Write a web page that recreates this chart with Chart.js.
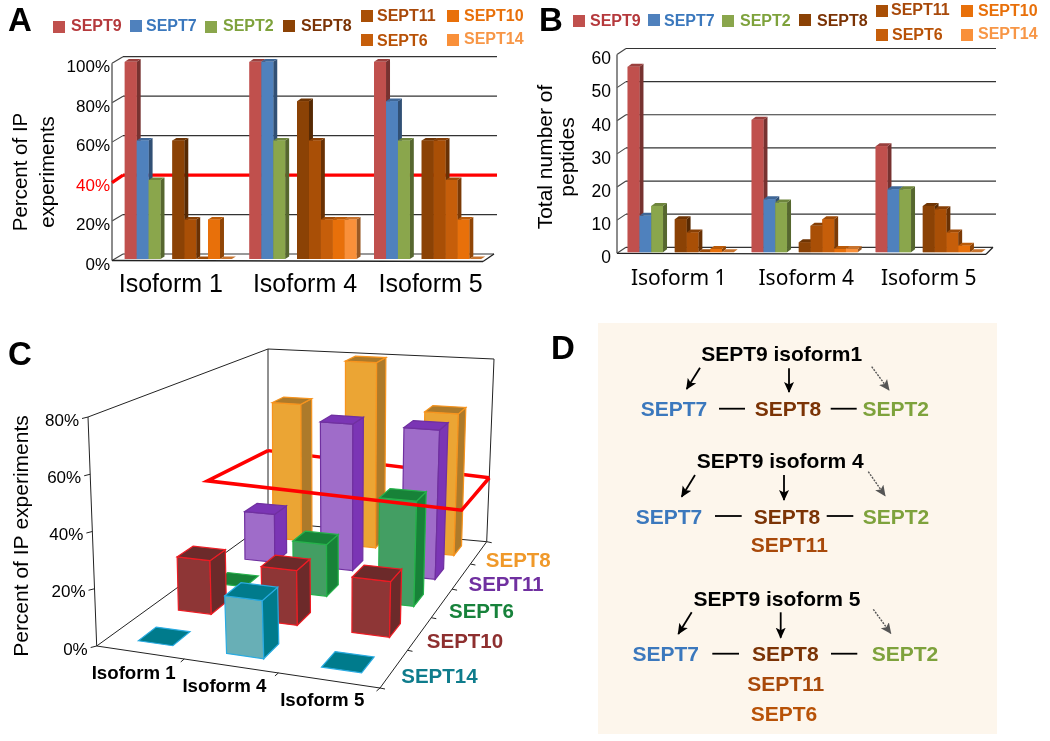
<!DOCTYPE html>
<html>
<head>
<meta charset="utf-8">
<title>SEPT9 isoforms</title>
<script src="https://cdn.jsdelivr.net/npm/chart.js@4"></script>
<style>
  html, body { margin: 0; padding: 0; background: #fff; }
  #page { position: relative; width: 1050px; height: 741px; overflow: hidden; font-family: "Liberation Sans", Arial, sans-serif; }
  #page canvas { position: absolute; }
  .txt { position: absolute; white-space: nowrap; font-weight: bold; line-height: 1; }
  .mid { transform: translate(-50%, -50%); }
  .left { transform: translateY(-50%); }
  .sq { position: absolute; width: 12px; height: 12px; }
  #panelD { position: absolute; left: 598px; top: 323px; width: 399px; height: 411px; background: #fdf6ec; }
  svg { position: absolute; left: 0; top: 0; }
</style>
</head>
<body>
<div id="page">
  <div id="panelD"></div>
  <canvas id="chartA" style="left:0;top:0"></canvas>
  <canvas id="chartB" style="left:520px;top:0"></canvas>
  <canvas id="chartC" style="left:0;top:320px"></canvas>
  <svg width="1050" height="741">
    <defs>
      <marker id="headK" markerWidth="11" markerHeight="11" refX="10" refY="5.5" orient="auto" markerUnits="userSpaceOnUse">
        <path d="M0,0.5 L11,5.5 L0,10.5 L2.5,5.5 Z" fill="#000"/>
      </marker>
      <marker id="headG" markerWidth="11" markerHeight="11" refX="10" refY="5.5" orient="auto" markerUnits="userSpaceOnUse">
        <path d="M0,0.5 L11,5.5 L0,10.5 L2.5,5.5 Z" fill="#555"/>
      </marker>
    </defs>
    <g id="arrows"></g>
  </svg>
</div>
<script>
// Categories and series names
const isoforms = ['Isoform 1', 'Isoform 4', 'Isoform 5'];
const tickPercent = [0, 20, 40, 60, 80, 100];
const threshold = 40;

// Panel A - percent of IP experiments
const ipSept9 = [100, 100, 100];
const ipSept7 = [60, 100, 80];
const ipSept2 = [40, 60, 60];
const ipSept8 = [60, 80, 60];
const ipSept11 = [20, 60, 60];
const ipSept6 = [0, 20, 40];
const ipSept10 = [20, 20, 20];
const ipSept14 = [0, 20, 0];

// Panel B - total number of peptides
const pepSept9 = [56, 40, 32];
const pepSept7 = [11, 16, 19];
const pepSept2 = [14, 15, 19];
const pepSept8 = [10, 3, 14];
const pepSept11 = [6, 8, 13];
const pepSept6 = [0, 10, 6];
const pepSept10 = [1, 1, 2];
const pepSept14 = [0, 1, 0];

// Panel C - red plane, in isoform / depth / percent units
const redIso = [-0.5, -0.5, 2.5, 2.5];
const redDepth = [2.4, 4.5, 4.5, 2.85];
const redPct = [35, 33, 28, 28];

const FONT = '"Liberation Sans", Arial, sans-serif';
const barColors = {
  SEPT9: '#c0504d', SEPT7: '#4f81bd', SEPT2: '#8aa64c', SEPT8: '#8b4205',
  SEPT11: '#a94f06', SEPT6: '#c65e0a', SEPT10: '#e8700a', SEPT14: '#f9903a'
};
const textColors = {
  SEPT9: '#b5393c', SEPT7: '#3b78bd', SEPT2: '#7ea23c', SEPT8: '#7b3305',
  SEPT11: '#a8490a', SEPT6: '#b85207', SEPT10: '#e8700a', SEPT14: '#f79646'
};

function shade(hex, f) {
  const n = parseInt(hex.slice(1), 16);
  return 'rgb(' + [n >> 16, (n >> 8) & 255, n & 255].map(c => Math.round(c * f)).join(',') + ')';
}

function poly(ctx, pts, fill, stroke, lw) {
  ctx.beginPath();
  pts.forEach((p, i) => i ? ctx.lineTo(p[0], p[1]) : ctx.moveTo(p[0], p[1]));
  ctx.closePath();
  if (fill) { ctx.fillStyle = fill; ctx.fill(); }
  if (stroke) { ctx.strokeStyle = stroke; ctx.lineWidth = lw || 1; ctx.stroke(); }
}

function seg(ctx, x1, y1, x2, y2, color, lw) {
  ctx.beginPath();
  ctx.moveTo(x1, y1);
  ctx.lineTo(x2, y2);
  ctx.strokeStyle = color;
  ctx.lineWidth = lw;
  ctx.stroke();
}

// Fake Excel-style 3D walls and bar sides for panels A and B
const box3d = {
  id: 'box3d',
  beforeDatasetsDraw(chart, args, o) {
    const { ctx, chartArea: a, scales: { x, y } } = chart;
    const wl = a.left + o.wallL, wr = a.right + o.wallR, fl = a.left + o.frontL, fr = a.right + o.frontR;
    y.ticks.forEach(t => {
      const py = y.getPixelForValue(t.value);
      seg(ctx, wl, py + o.backDy, t.value === 0 ? wr - 3 : wr, py + o.backDy, '#333', 1.2);
      seg(ctx, fl, py + o.frontDy, wl, py + o.backDy, '#444', 1.1);
    });
    seg(ctx, fl, y.getPixelForValue(y.max) + o.frontDy, fl, y.getPixelForValue(0) + o.frontDy, '#666', 1.5);
    const p0 = y.getPixelForValue(0);
    seg(ctx, fl, p0 + o.frontDy, fr, p0 + o.frontDy + 1, '#222', 1.3);
    seg(ctx, fr, p0 + o.frontDy + 1, wr - 3, p0 + o.backDy, '#222', 1.3);
    if (o.redLine) {
      const r = y.getPixelForValue(threshold);
      seg(ctx, wl, r + o.backDy, wr, r + o.backDy, '#f00', 3.2);
      seg(ctx, fl, r + o.frontDy + 1, wl, r + o.backDy, '#f00', 3.2);
    }
  },
  afterDatasetsDraw(chart, args, o) {
    const { ctx, scales: { x } } = chart;
    const dx = o.depthX, dy = o.depthY;
    chart.data.datasets.forEach((ds, di) => {
      if (!ds.label) return;
      const color = ds.backgroundColor;
      chart.getDatasetMeta(di).data.forEach(el => {
        const l = el.x - el.width / 2, r = el.x + el.width / 2;
        poly(ctx, [[r, el.y], [r + dx, el.y + dy], [r + dx, el.base + dy], [r, el.base]], shade(color, 0.62));
        poly(ctx, [[l, el.y], [r, el.y], [r + dx, el.y + dy], [l + dx, el.y + dy]], shade(color, 0.8));
        el.draw(ctx);
      });
    });
    // category names sit a little off their groups in the original
    ctx.font = o.labelFont;
    ctx.fillStyle = '#000';
    ctx.textAlign = 'center';
    ctx.textBaseline = 'middle';
    isoforms.forEach((name, i) => {
      ctx.fillText(name, x.getPixelForValue(i) + o.labelShift[i], o.labelY);
    });
    // axis title is not centred on the axis either
    ctx.save();
    ctx.font = o.titleFont;
    ctx.translate(o.titleX, o.titleY);
    ctx.rotate(-Math.PI / 2);
    o.title.forEach((line, i) => ctx.fillText(line, 0, i * o.titleLine));
    ctx.restore();
  }
};

function barChart(id, w, h, series, cfg) {
  const canvas = document.getElementById(id);
  canvas.width = w;
  canvas.height = h;
  canvas.style.width = w + 'px';
  canvas.style.height = h + 'px';
  const datasets = [];
  series.forEach(s => {
    datasets.push({ label: s[0], data: s[1], backgroundColor: barColors[s[0]], borderWidth: 0, barPercentage: 1, categoryPercentage: cfg.catPct });
    // the empty slot between SEPT2 and SEPT8
    if (s[0] === 'SEPT2') datasets.push({ label: '', data: [null, null, null], barPercentage: 1, categoryPercentage: cfg.catPct });
  });
  return new Chart(canvas, {
    type: 'bar',
    data: { labels: isoforms, datasets: datasets },
    plugins: [box3d],
    options: {
      responsive: false,
      animation: false,
      events: [],
      layout: { padding: cfg.padding },
      plugins: { legend: { display: false }, tooltip: { enabled: false }, box3d: cfg.box },
      scales: {
        x: {
          ticks: { display: false },
          grid: { display: false, drawTicks: false },
          border: { display: false },
          afterFit(s) { s.height = 0; }
        },
        y: {
          min: 0,
          max: cfg.max,
          afterBuildTicks: s => { s.ticks = cfg.ticks.map(v => ({ value: v })); },
          afterFit(s) { s.width = cfg.axisWidth; },
          grid: { display: false, drawTicks: false },
          border: { display: false },
          ticks: {
            autoSkip: false,
            padding: cfg.tickPad,
            labelOffset: 6,
            color: c => (cfg.box.redLine && c.tick.value === threshold ? '#f00' : '#000'),
            font: { family: cfg.tickFont, size: cfg.tickSize },
            callback: cfg.format
          }
        }
      }
    }
  });
}

barChart('chartA', 520, 310, [
  ['SEPT9', ipSept9], ['SEPT7', ipSept7], ['SEPT2', ipSept2], ['SEPT8', ipSept8],
  ['SEPT11', ipSept11], ['SEPT6', ipSept6], ['SEPT10', ipSept10], ['SEPT14', ipSept14]
], {
  catPct: 0.859,
  padding: { left: 0, top: 61.7, right: 30, bottom: 51 },
  max: 100,
  ticks: tickPercent,
  axisWidth: 116,
  tickPad: 6,
  tickFont: FONT,
  tickSize: 17,
  format: v => v + '%',
  box: {
    wallL: 7, wallR: 7, frontL: -4, frontR: -7, backDy: -5, frontDy: 1.5, redLine: true,
    depthX: 4, depthY: -2.6, labelFont: '25px ' + FONT, labelY: 285, labelShift: [-7.5, 2, 3],
    title: ['Percent of IP', 'experiments'], titleFont: '20.5px ' + FONT, titleX: 21, titleY: 172, titleLine: 27
  }
});

barChart('chartB', 530, 310, [
  ['SEPT9', pepSept9], ['SEPT7', pepSept7], ['SEPT2', pepSept2], ['SEPT8', pepSept8],
  ['SEPT11', pepSept11], ['SEPT6', pepSept6], ['SEPT10', pepSept10], ['SEPT14', pepSept14]
], {
  catPct: 0.855,
  padding: { left: 0, top: 53.5, right: 59.3, bottom: 57.7 },
  max: 60,
  ticks: [0, 10, 20, 30, 40, 50, 60],
  axisWidth: 98.7,
  tickPad: 7.7,
  tickFont: FONT,
  tickSize: 17.5,
  format: v => v,
  box: {
    wallL: 7.3, wallR: 5.3, frontL: -1.7, frontR: -4.7, backDy: -5, frontDy: 1, redLine: false,
    depthX: 4, depthY: -3, labelFont: '21px "Noto Sans", ' + FONT, labelY: 279, labelShift: [-2, 1.6, 0],
    title: ['Total number of', 'peptides'], titleFont: '21px ' + FONT, titleX: 26, titleY: 157, titleLine: 22
  }
});

// Panel C: front to back rows of the perspective chart
const depthNames = ['SEPT14', 'SEPT10', 'SEPT6', 'SEPT11', 'SEPT8'];
const depthValues = [ipSept14, ipSept10, ipSept6, ipSept11, ipSept8];
const cuboid = {
  SEPT14: { front: '#68afb6', dark: '#007b8c', edge: '#29abe2', text: '#0e7c8c' },
  SEPT10: { front: '#8e3636', dark: '#6c2a2a', edge: '#ed1c24', text: '#8e2f2f' },
  SEPT6: { front: '#439e63', dark: '#178238', edge: '#26b24b', text: '#17823b' },
  SEPT11: { front: '#9f6cc9', dark: '#7b35b5', edge: '#7030a0', text: '#7030a0' },
  SEPT8: { front: '#eba534', dark: '#ad7a2a', edge: '#f7941e', text: '#f0992a' }
};

function quadMap(p0, p1, p2, p3) {
  const dx1 = p1[0] - p2[0], dx2 = p3[0] - p2[0], sx = p0[0] - p1[0] + p2[0] - p3[0];
  const dy1 = p1[1] - p2[1], dy2 = p3[1] - p2[1], sy = p0[1] - p1[1] + p2[1] - p3[1];
  const den = dx1 * dy2 - dx2 * dy1;
  const g = (sx * dy2 - dx2 * sy) / den, h = (dx1 * sy - sx * dy1) / den;
  const a = p1[0] - p0[0] + g * p1[0], b = p3[0] - p0[0] + h * p3[0];
  const d = p1[1] - p0[1] + g * p1[1], e = p3[1] - p0[1] + h * p3[1];
  return (u, v) => {
    const w = g * u + h * v + 1;
    return [(a * u + b * v + p0[0]) / w, (d * u + e * v + p0[1]) / w];
  };
}

// floor and 80% plane as seen by the camera (canvas C coordinates)
const floorMap = quadMap([96.7, 326], [380, 368], [486.7, 221.7], [268, 202]);
const topMap = quadMap([88, 97], [384.7, 126], [494, 39], [268, 29]);

const perspective = {
  id: 'perspective',
  afterDatasetsDraw(chart) {
    const { ctx, chartArea: a, scales: { x, y, depth } } = chart;
    const pt = (iso, d, pct) => {
      const u = (x.getPixelForValue(iso) - a.left) / a.width;
      const v = (depth.getPixelForValue(d) - a.top) / a.height;
      const t = (y.getPixelForValue(0) - y.getPixelForValue(pct)) / a.height;
      const f = floorMap(u, v), c = topMap(u, v);
      return [f[0] + (c[0] - f[0]) * t, f[1] + (c[1] - f[1]) * t];
    };
    const line = (p, q, color, lw) => seg(ctx, p[0], p[1], q[0], q[1], color, lw);
    const L = -0.5, R = 2.5, F = -0.5, B = 4.5, H = y.max;

    // box frame
    const ink = '#222';
    line(pt(L, F, H), pt(L, B, H), ink, 1);
    line(pt(L, B, H), pt(R, B, H), ink, 1);
    line(pt(R, B, H), pt(R, B, 0), ink, 1);
    line(pt(L, B, H), pt(L, B, 0), ink, 1);
    line(pt(L, B, 0), pt(R, B, 0), ink, 1);
    line(pt(L, F, H), pt(L, F, 0), ink, 1);
    line(pt(L, F, 0), pt(L, B, 0), ink, 1);
    line(pt(L, F, 0), pt(R, F, 0), ink, 1);
    line(pt(R, F, 0), pt(R, B, 0), ink, 1);

    // y ticks and labels
    ctx.textBaseline = 'middle';
    ctx.textAlign = 'right';
    ctx.fillStyle = '#000';
    ctx.font = '17px ' + FONT;
    y.ticks.forEach(t => {
      const p = pt(L, F, t.value);
      line(p, [p[0] - 6, p[1] + 1.5], ink, 1);
      ctx.fillText(t.value + '%', p[0] - 9, p[1] + 4);
    });

    // tick marks between categories
    [0.5, 1.5, 2.5].forEach(i => {
      const p = pt(i, F, 0);
      line(p, [p[0] - 3.5, p[1] + 3], ink, 1);
    });
    [-0.5, 0.5, 1.5, 2.5, 3.5, 4.5].forEach(d => {
      const p = pt(R, d, 0);
      line(p, [p[0] + 5, p[1] + 1], ink, 1);
    });

    // far side of the red plane goes behind the bars
    const red = redIso.map((iso, i) => pt(iso, redDepth[i], redPct[i]));
    line(red[1], red[2], '#f00', 3.5);

    // bars, back row first; bars sit slightly right of their category centre
    for (let d = depthNames.length - 1; d >= 0; d--) {
      const st = cuboid[depthNames[d]];
      depthValues[d].forEach((val, i) => {
        const w = 0.2, k = 0.215, c = i + 0.04;
        const a0 = pt(c - w, d - k, 0), b0 = pt(c + w, d - k, 0), c0 = pt(c + w, d + k, 0);
        const a1 = pt(c - w, d - k, val), b1 = pt(c + w, d - k, val), c1 = pt(c + w, d + k, val), d1 = pt(c - w, d + k, val);
        if (val > 0) {
          poly(ctx, [a0, b0, b1, a1], st.front, st.edge, 1.2);
          poly(ctx, [b0, c0, c1, b1], st.dark, st.edge, 1.2);
        }
        poly(ctx, [a1, b1, c1, d1], st.dark, st.edge, 1.2);
      });
    }

    // near sides of the red plane
    ctx.lineJoin = 'miter';
    ctx.beginPath();
    ctx.moveTo(red[2][0], red[2][1]);
    ctx.lineTo(red[3][0], red[3][1]);
    ctx.lineTo(red[0][0], red[0][1]);
    ctx.lineTo(red[1][0], red[1][1]);
    ctx.strokeStyle = '#f00';
    ctx.lineWidth = 3.5;
    ctx.stroke();

    // category names along the floor edges
    ctx.textAlign = 'center';
    ctx.fillStyle = '#000';
    ctx.font = 'bold 18.7px ' + FONT;
    isoforms.forEach((name, i) => {
      const p = pt(i, F, 0);
      ctx.fillText(name, p[0] - 6, p[1] + 21);
    });
    ctx.textAlign = 'left';
    ctx.font = 'bold 20.5px ' + FONT;
    depthNames.forEach((name, d) => {
      const p = pt(R, d, 0);
      ctx.fillStyle = cuboid[name].text;
      ctx.fillText(name, p[0] + 7, p[1] + 9);
    });
  }
};

const canvasC = document.getElementById('chartC');
canvasC.width = 600;
canvasC.height = 421;
canvasC.style.width = '600px';
canvasC.style.height = '421px';
new Chart(canvasC, {
  type: 'bar',
  data: {
    labels: isoforms,
    datasets: depthNames.map((name, d) => ({ label: name, data: depthValues[d], backgroundColor: 'transparent' }))
  },
  plugins: [perspective],
  options: {
    responsive: false,
    animation: false,
    events: [],
    layout: { padding: { left: 0, top: 101.5, right: 220, bottom: 90.5 } },
    plugins: { legend: { display: false }, tooltip: { enabled: false } },
    scales: {
      x: { display: false, offset: true },
      depth: { type: 'category', axis: 'y', labels: depthNames, offset: true, display: false },
      y: {
        min: 0,
        max: 80,
        afterBuildTicks: s => { s.ticks = tickPercent.slice(0, 5).map(v => ({ value: v })); },
        afterFit(s) { s.width = 96; },
        grid: { display: false },
        border: { display: false },
        ticks: { display: false },
        title: { display: true, text: 'Percent of IP experiments', color: '#000', font: { family: FONT, size: 21, lineHeight: 1.2 }, padding: { top: 10, bottom: 0 } }
      }
    }
  }
});

// Legends, panel letters and panel D are plain text on the page
const page = document.getElementById('page');
function addText(text, x, y, size, color, cls) {
  const el = document.createElement('div');
  el.className = 'txt ' + cls;
  el.textContent = text;
  el.style.left = x + 'px';
  el.style.top = y + 'px';
  el.style.fontSize = size + 'px';
  el.style.color = color;
  page.appendChild(el);
}
function addLegend(rows) {
  rows.forEach(r => {
    const sq = document.createElement('div');
    sq.className = 'sq';
    sq.style.left = r[1] + 'px';
    sq.style.top = r[2] + 'px';
    sq.style.background = barColors[r[0]];
    page.appendChild(sq);
    addText(r[0], r[3], r[4], 16, textColors[r[0]], 'left');
  });
}
addLegend([
  ['SEPT9', 53, 21, 71, 26], ['SEPT7', 130, 20, 146, 26], ['SEPT2', 205, 21, 223, 26], ['SEPT8', 283, 20, 301, 26],
  ['SEPT11', 361, 10, 377, 16], ['SEPT10', 447, 10, 464, 16], ['SEPT6', 361, 34, 377, 41], ['SEPT14', 447, 34, 464, 39]
]);
addLegend([
  ['SEPT9', 573, 15, 590, 21], ['SEPT7', 648, 14, 664, 21], ['SEPT2', 722, 15, 740, 21], ['SEPT8', 799, 14, 817, 21],
  ['SEPT11', 876, 5, 891, 10], ['SEPT10', 961, 5, 978, 11], ['SEPT6', 876, 29, 892, 35], ['SEPT14', 961, 29, 978, 34]
]);
[['A', 20, 19], ['B', 551, 19], ['C', 20, 353], ['D', 563, 347]].forEach(l => addText(l[0], l[1], l[2], 33, '#000', 'mid'));

const partners = [
  ['SEPT9 isoform1', 781.7, 352.7, '#000'],
  ['SEPT7', 674, 408, textColors.SEPT7], ['SEPT8', 788, 408, textColors.SEPT8], ['SEPT2', 895.7, 408, textColors.SEPT2],
  ['SEPT9 isoform 4', 780.3, 460, '#000'],
  ['SEPT7', 669, 515.7, textColors.SEPT7], ['SEPT8', 787, 515.7, textColors.SEPT8], ['SEPT2', 896, 515.7, textColors.SEPT2],
  ['SEPT11', 789.3, 543.7, textColors.SEPT11],
  ['SEPT9 isoform 5', 777, 597.7, '#000'],
  ['SEPT7', 665.7, 653.3, textColors.SEPT7], ['SEPT8', 785.3, 653.3, textColors.SEPT8], ['SEPT2', 905, 653.3, textColors.SEPT2],
  ['SEPT11', 785.7, 682.7, textColors.SEPT11], ['SEPT6', 784, 713.3, textColors.SEPT6]
];
partners.forEach(p => addText(p[0], p[1], p[2], 21, p[3], 'mid'));

const arrowLines = [
  [700, 367.7, 686.7, 389], [789, 368.3, 789, 392], [871.7, 366.7, 889, 390, 1],
  [695, 475, 681.7, 496.7], [784, 475, 784, 500], [868.3, 471.7, 885, 495.7, 1],
  [691.7, 612.3, 678.3, 634], [780.7, 612.3, 780.7, 637.7], [873.3, 609.3, 890.7, 633.3, 1],
  [719, 408.7, 745, 408.7, 2], [830.7, 408.7, 856.7, 408.7, 2],
  [715, 516, 741.7, 516, 2], [826.7, 516, 853.3, 516, 2],
  [712.3, 653.7, 739, 653.7, 2], [831, 653.7, 857.3, 653.7, 2]
];
const arrowGroup = document.getElementById('arrows');
arrowLines.forEach(a => {
  const ln = document.createElementNS('http://www.w3.org/2000/svg', 'line');
  ln.setAttribute('x1', a[0]);
  ln.setAttribute('y1', a[1]);
  ln.setAttribute('x2', a[2]);
  ln.setAttribute('y2', a[3]);
  ln.setAttribute('stroke-width', a[4] === 1 ? 1.4 : 1.8);
  ln.setAttribute('stroke', a[4] === 1 ? '#555' : '#000');
  if (a[4] === 1) {
    ln.setAttribute('stroke-dasharray', '2 1.2');
    ln.setAttribute('marker-end', 'url(#headG)');
  } else if (!a[4]) {
    ln.setAttribute('marker-end', 'url(#headK)');
  }
  arrowGroup.appendChild(ln);
});
</script>
</body>
</html>
